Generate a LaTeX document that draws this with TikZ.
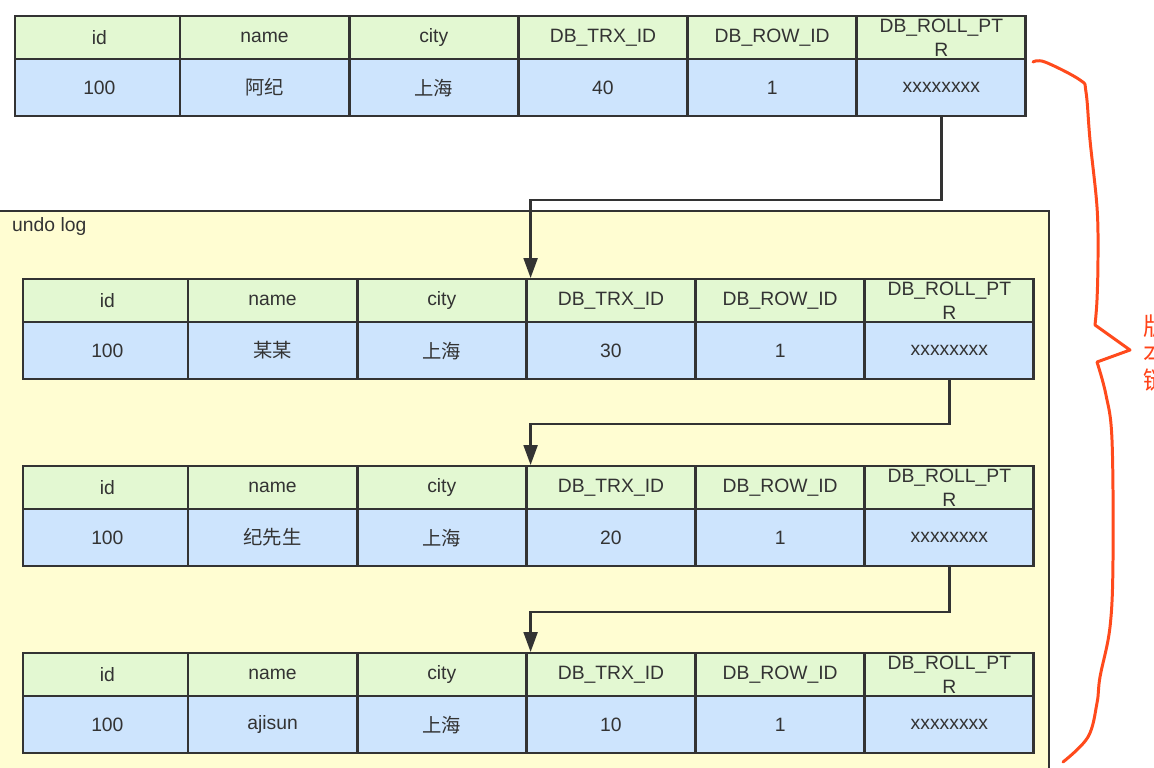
\documentclass[tikz,border=0pt]{standalone}
\usepackage{fontspec}
\setmainfont{Liberation Sans}
\newfontfamily\cjk{Noto Sans CJK SC}
\usetikzlibrary{arrows.meta,positioning}
\definecolor{hdrgreen}{HTML}{E3F8D2}
\definecolor{rowblue}{HTML}{CDE4FD}
\definecolor{undoyellow}{HTML}{FFFDD2}
\definecolor{linegray}{HTML}{333333}
\definecolor{braceorange}{HTML}{FF4A1C}

\begin{document}
\begin{tikzpicture}[
  x=0.02cm, y=-0.02cm,
  cell/.style={draw=linegray,rectangle,line width=1.3pt,anchor=north west,inner sep=0pt,
               minimum width=3.37cm,text=linegray,align=center,
               font=\fontsize{11}{14}\selectfont},
  hdr/.style={cell,fill=hdrgreen,minimum height=0.86cm},
  row/.style={cell,fill=rowblue,minimum height=1.14cm},
  undobox/.style={draw=linegray,line width=1.3pt,fill=undoyellow,anchor=north west,
                  minimum width=21.02cm,minimum height=11.6cm,inner sep=0pt},
  link/.style={draw=linegray,line width=1.3pt,-{Triangle[length=0.4cm,width=0.28cm]}},
  brace/.style={draw=braceorange,line width=1.7pt,line cap=round,line join=round},
]
  \useasboundingbox[fill=white] (0,0) rectangle (1154,768);

  % undo log area
  \node[undobox] (undo) at (-3,210) {};
  \node[anchor=west,text=linegray,font=\fontsize{11}{14}\selectfont] (undolbl) at (6,226) {undo log};

  % tables: current row + undo log versions (first column a bit narrower)
  \foreach \t/\tx/\ty/\nm/\trx in {0/14/15/{\cjk 阿纪}/40, 1/22/278/{\cjk 某某}/30,
                                   2/22/465/{\cjk 纪先生}/20, 3/22/652/ajisun/10} {
    \foreach \h [count=\c] in {id,name,city,DB\_TRX\_ID,DB\_ROW\_ID,{DB\_ROLL\_PT\\R}}
      \node[hdr] (h\t-\c) at ({\tx+169.2*\c-169.2-4*min(\c-1,1)},\ty) {\h};
    \foreach \v [count=\c] in {100,\nm,{\cjk 上海},\trx,1,xxxxxxxx}
      \node[row] (d\t-\c) at ({\tx+169.2*\c-169.2-4*min(\c-1,1)},\ty+43) {\v};
  }

  % roll pointers
  \foreach \a/\b/\drop in {0/1/83, 1/2/44, 2/3/45}
    \draw[link] (d\a-6.south) -- ++(0,\drop) -| ([xshift=0.1cm]h\b-4.north west);

  % version chain brace
  \draw[brace] plot[smooth,tension=0.6] coordinates {(1033,62) (1045,62) (1080,80) (1086,92)
      (1090,140) (1097,207) (1098,257) (1097,300) (1095,325)}
    -- (1130,350) -- (1097,362)
    -- plot[smooth,tension=0.6] coordinates {(1097,362) (1106,395) (1112,440) (1113,560)
      (1110,627) (1100,677) (1097,703) (1088,737) (1063,762)};
  \node[text=braceorange!90!red,align=center,font=\cjk\fontsize{14}{15.5}\selectfont]
    (chainlbl) at (1156,353) {版\\本\\链};
\end{tikzpicture}
\end{document}
